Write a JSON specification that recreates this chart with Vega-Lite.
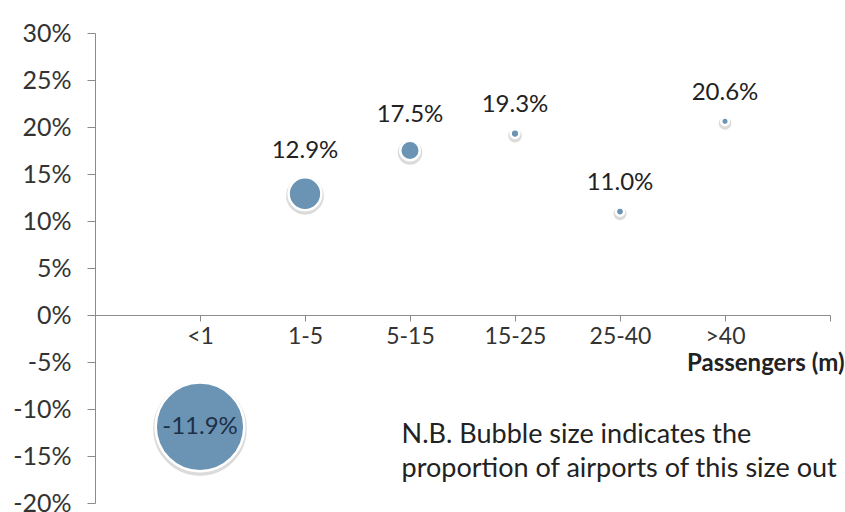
{
  "$schema": "https://vega.github.io/schema/vega-lite/v6.json",
  "width": 735,
  "height": 470,
  "autosize": {"type": "none"},
  "padding": {"left": 95, "top": 33, "right": 15, "bottom": 9},
  "background": "white",
  "config": {
    "font": "Lato",
    "view": {"stroke": null},
    "locale": {"number": {"decimal": ".", "thousands": ",", "grouping": [3], "currency": ["$", ""], "minus": "-"}}
  },
  "datasets": {
    "airports": [
      {"size_band": "<1", "pos": 1, "growth": -0.119, "share": 0.826},
      {"size_band": "1-5", "pos": 2, "growth": 0.129, "share": 0.113},
      {"size_band": "5-15", "pos": 3, "growth": 0.175, "share": 0.040},
      {"size_band": "15-25", "pos": 4, "growth": 0.193, "share": 0.008},
      {"size_band": "25-40", "pos": 5, "growth": 0.110, "share": 0.007},
      {"size_band": ">40", "pos": 6, "growth": 0.206, "share": 0.006}
    ],
    "note": [
      {"note": "N.B. Bubble size indicates the"}
    ],
    "note2": [
      {"note": "proportion of airports of this size out"}
    ]
  },
  "layer": [
    {
      "data": {"name": "airports"},
      "mark": {"type": "circle", "fill": "#9a9a9a", "opacity": 0.35, "stroke": "#9a9a9a", "strokeWidth": 5, "yOffset": 2},
      "encoding": {
        "x": {
          "field": "pos", "type": "quantitative",
          "scale": {"domain": [0, 7], "nice": false, "zero": false},
          "axis": {
            "values": [1, 2, 3, 4, 5, 6, 7],
            "labelExpr": "['', '<1', '1-5', '5-15', '15-25', '25-40', '>40', ''][datum.value]",
            "grid": false,
            "offset": -188,
            "domainColor": "#8c8c8c",
            "tickColor": "#8c8c8c",
            "tickSize": 6,
            "labelPadding": 4,
            "labelFontSize": 23,
            "labelColor": "#333333",
            "title": "Passengers (m)",
            "titleFontSize": 24,
            "titleFontWeight": "bold",
            "titleColor": "#222222",
            "titleX": 749,
            "titleY": 48,
            "titleAlign": "right",
            "titleBaseline": "middle"
          }
        },
        "y": {
          "field": "growth", "type": "quantitative",
          "scale": {"domain": [-0.2, 0.3], "nice": false, "zero": false},
          "axis": {
            "values": [-0.2, -0.15, -0.1, -0.05, 0, 0.05, 0.1, 0.15, 0.2, 0.25, 0.3],
            "format": ".0%",
            "grid": false,
            "title": null,
            "domainColor": "#8c8c8c",
            "tickColor": "#8c8c8c",
            "tickSize": 8,
            "labelPadding": 16,
            "labelFontSize": 25,
            "labelColor": "#333333"
          }
        },
        "size": {"field": "share", "type": "quantitative", "scale": {"domain": [0, 0.826], "range": [0, 7850], "zero": true}, "legend": null}
      }
    },
    {
      "data": {"name": "airports"},
      "mark": {"type": "circle", "fill": "#6b94b4", "opacity": 1, "stroke": "white", "strokeWidth": 2.5},
      "encoding": {
        "x": {"field": "pos", "type": "quantitative"},
        "y": {"field": "growth", "type": "quantitative"},
        "size": {"field": "share", "type": "quantitative", "legend": null}
      }
    },
    {
      "data": {"name": "airports"},
      "transform": [{"filter": "datum.growth > 0"}],
      "mark": {"type": "text", "fontSize": 24, "color": "#222222", "baseline": "middle", "align": "center", "dy": {"expr": "-(24 + sqrt(datum.share / 0.826 * 7850 / PI))"}},
      "encoding": {
        "x": {"field": "pos", "type": "quantitative"},
        "y": {"field": "growth", "type": "quantitative"},
        "text": {"field": "growth", "type": "quantitative", "format": ".1%"}
      }
    },
    {
      "data": {"name": "airports"},
      "transform": [{"filter": "datum.growth < 0"}],
      "mark": {"type": "text", "fontSize": 24, "color": "#1c3048", "baseline": "middle", "align": "center"},
      "encoding": {
        "x": {"field": "pos", "type": "quantitative"},
        "y": {"field": "growth", "type": "quantitative"},
        "text": {"field": "growth", "type": "quantitative", "format": ".1%"}
      }
    },
    {
      "data": {"name": "note"},
      "mark": {"type": "text", "fontSize": 27, "color": "#222222", "align": "left", "baseline": "alphabetic"},
      "encoding": {
        "x": {"datum": 2.92},
        "y": {"datum": -0.1362},
        "text": {"field": "note", "type": "nominal"}
      }
    },
    {
      "data": {"name": "note2"},
      "mark": {"type": "text", "fontSize": 27, "color": "#222222", "align": "left", "baseline": "alphabetic"},
      "encoding": {
        "x": {"datum": 2.92},
        "y": {"datum": -0.1723},
        "text": {"field": "note", "type": "nominal"}
      }
    }
  ]
}
